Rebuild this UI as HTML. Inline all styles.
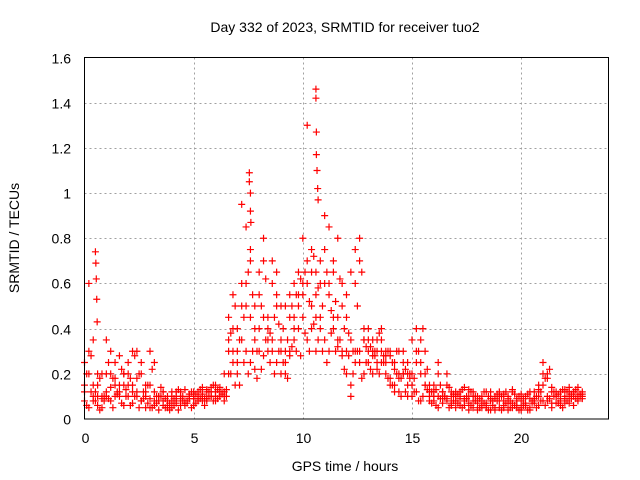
<!DOCTYPE html>
<html><head><meta charset="utf-8"><style>
body{margin:0;background:#fff;}
svg{display:block;font-family:"Liberation Sans",sans-serif;}
</style></head><body>
<svg id="chart" width="640" height="480">
<rect width="640" height="480" fill="#fff"/>
<text x="345" y="32" font-size="14" text-anchor="middle">Day 332 of 2023, SRMTID for receiver tuo2</text>
<text x="345" y="471" font-size="14" text-anchor="middle">GPS time / hours</text>
<text transform="translate(19,238) rotate(-90)" font-size="14" text-anchor="middle">SRMTID / TECUs</text>
<g id="grid"></g><g id="ticks"></g><g id="pts"></g>
<rect x="84.5" y="57.5" width="524" height="361.5" fill="none" stroke="#000" stroke-width="1"/>
</svg>
<script>
const hours=[0,0.2,0.4,0.6,0.8,1,1.2,1.4,1.6,1.8,2,2.2,2.4,2.6,2.8,3,3.2,3.4,3.6,3.8,4,4.2,4.4,4.6,4.8,5,5.2,5.4,5.6,5.8,6,6.2,6.4,6.6,6.8,7,7.2,7.4,7.6,7.8,8,8.2,8.4,8.6,8.8,9,9.2,9.4,9.6,9.8,10,10.2,10.4,10.6,10.8,11,11.2,11.4,11.6,11.8,12,12.2,12.4,12.6,12.8,13,13.2,13.4,13.6,13.8,14,14.2,14.4,14.6,14.8,15,15.2,15.4,15.6,15.8,16,16.2,16.4,16.6,16.8,17,17.2,17.4,17.6,17.8,18,18.2,18.4,18.6,18.8,19,19.2,19.4,19.6,19.8,20,20.2,20.4,20.6,20.8,21,21.2,21.4,21.6,21.8,22,22.2,22.4,22.6,22.8];
const srmtidA=[.08,.05,.1,.06,.09,.12,.08,.15,.1,.06,.1,.07,.12,.08,.05,.09,.06,.04,.08,.06,.05,.07,.06,.08,.09,.1,.08,.11,.09,.12,.1,.12,.1,.3,.25,.2,.35,.3,.25,.22,.3,.28,.35,.3,.25,.2,.3,.28,.35,.4,.45,.35,.5,.45,.4,.35,.3,.4,.32,.28,.3,.15,.25,.3,.2,.25,.28,.22,.25,.2,.18,.15,.12,.2,.15,.1,.12,.08,.15,.1,.08,.1,.07,.09,.06,.08,.06,.09,.07,.05,.07,.05,.06,.04,.05,.05,.06,.04,.07,.05,.04,.06,.05,.07,.06,.08,.1,.05,.07,.08,.09,.07,.1,.08,.1];
const srmtidB=[.25,.3,.15,.1,.05,.2,.3,.25,.15,.2,.25,.15,.3,.2,.1,.15,.25,.1,.12,.1,.1,.12,.09,.13,.1,.12,.1,.14,.13,.1,.15,.14,.2,.45,.55,.4,.6,.5,.45,.5,.55,.7,.45,.6,.5,.35,.5,.45,.6,.65,.6,.7,.75,.65,.7,.6,.55,.7,.8,.5,.45,.35,.6,.7,.4,.3,.35,.3,.4,.28,.3,.25,.3,.2,.25,.2,.4,.25,.3,.15,.15,.2,.12,.15,.1,.1,.12,.08,.13,.1,.1,.08,.12,.09,.1,.12,.08,.1,.13,.09,.08,.1,.12,.09,.15,.25,.2,.12,.1,.12,.13,.1,.12,.14,.12];
const srmtidC=[.15,.2,.35,.2,.1,.35,.2,.1,.28,.15,.2,.3,.1,.25,.15,.3,.12,.08,.06,.05,.08,.1,.12,.07,.1,.06,.09,.08,.12,.1,.08,.1,.12,.35,.3,.25,.5,.85,.7,.4,.4,.45,.3,.35,.55,.5,.25,.3,.4,.5,.55,.6,.4,.3,.45,.75,.6,.45,.35,.3,.55,.65,.3,.25,.35,.4,.2,.35,.3,.25,.15,.12,.2,.25,.1,.35,.25,.2,.15,.12,.1,.05,.12,.08,.07,.05,.1,.06,.04,.08,.04,.06,.05,.08,.04,.08,.05,.07,.05,.06,.05,.07,.04,.08,.1,.15,.08,.07,.1,.06,.07,.12,.06,.11,.09];
const srmtidD=[.12,.6,.08,.15,.2,.1,.14,.18,.12,.2,.15,.12,.18,.08,.12,.05,.08,.1,.12,.08,.12,.08,.1,.06,.11,.09,.12,.1,.08,.14,.12,.1,.08,.2,.4,.3,.95,.6,.75,.35,.65,.8,.4,.7,.65,.3,.2,.55,.45,.55,.8,1.3,.65,.55,.6,.9,.85,.65,.45,.6,.2,.1,.75,.8,.35,.35,.3,.25,.35,.3,.28,.22,.18,.3,.2,.15,.3,.35,.2,.08,.12,.25,.1,.2,.12,.12,.09,.14,.1,.12,.08,.1,.07,.12,.09,.1,.11,.09,.12,.08,.11,.06,.09,.12,.13,.2,.18,.14,.12,.09,.1,.14,.12,.09,.11];
const hours2=[0.1,0.3,0.5,0.7,0.9,1.1,1.3,1.5,1.7,1.9,2.1,2.3,2.5,2.7,2.9,3.1,3.3,3.5,3.7,3.9,4.1,4.3,4.5,4.7,4.9,5.1,5.3,5.5,5.7,5.9,6.1,6.3,6.5,6.7,6.9,7.1,7.3,7.5,7.7,7.9,8.1,8.3,8.5,8.7,8.9,9.1,9.3,9.5,9.7,9.9,10.1,10.3,10.5,10.7,10.9,11.1,11.3,11.5,11.7,11.9,12.1,12.3,12.5,12.7,12.9,13.1,13.3,13.5,13.7,13.9,14.1,14.3,14.5,14.7,14.9,15.1,15.3,15.5,15.7,15.9,16.1,16.3,16.5,16.7,16.9,17.1,17.3,17.5,17.7,17.9,18.1,18.3,18.5,18.7,18.9,19.1,19.3,19.5,19.7,19.9,20.1,20.3,20.5,20.7,20.9,21.1,21.3,21.5,21.7,21.9,22.1,22.3,22.5,22.7];
const srmtidE=[.06,.12,.08,.04,.1,.09,.05,.11,.07,.13,.06,.1,.05,.09,.07,.05,.07,.1,.05,.04,.06,.04,.08,.07,.05,.07,.09,.06,.1,.08,.09,.11,.13,.2,.15,.15,.25,.2,.3,.18,.22,.35,.25,.2,.3,.25,.18,.32,.3,.28,.38,.3,.42,.35,.3,.25,.38,.3,.35,.22,.28,.2,.3,.18,.25,.22,.3,.2,.28,.18,.15,.2,.1,.12,.18,.12,.08,.1,.13,.07,.06,.09,.1,.05,.08,.07,.05,.1,.06,.08,.05,.07,.04,.06,.08,.04,.07,.05,.06,.04,.06,.04,.07,.05,.08,.06,.09,.12,.07,.05,.08,.11,.09,.1];
const srmtidF=[.2,.28,.12,.18,.08,.25,.18,.12,.22,.1,.18,.28,.2,.12,.15,.22,.1,.14,.09,.07,.09,.13,.1,.08,.12,.11,.13,.09,.12,.15,.13,.12,.1,.38,.5,.35,.45,.65,.55,.3,.5,.62,.38,.45,.42,.4,.35,.5,.55,.62,.65,.52,.72,.58,.5,.65,.48,.52,.62,.4,.38,.3,.5,.65,.32,.32,.28,.38,.25,.3,.25,.3,.18,.22,.2,.18,.3,.4,.22,.12,.13,.15,.1,.14,.11,.11,.13,.09,.12,.1,.09,.12,.1,.08,.11,.1,.12,.08,.11,.1,.09,.11,.08,.1,.12,.18,.22,.1,.11,.13,.12,.09,.13,.11];
const spikeHours=[0.5,0.52,0.54,0.56,0.58,7.55,7.55,7.6,7.6,7.62,10.6,10.6,10.62,10.62,10.65,10.68,10.7];
const spikeValues=[.74,.69,.62,.53,.43,1.09,1.05,1.0,.92,.87,1.46,1.42,1.27,1.17,1.1,1.02,.97];
const xTicks=[0,5,10,15,20];
const yTicks=[0,0.2,0.4,0.6,0.8,1,1.2,1.4,1.6];
const yTickLabels=["0","0.2","0.4","0.6","0.8","1","1.2","1.4","1.6"];

const NS="http://www.w3.org/2000/svg";
const X0=84.5,X1=608.5,Y0=419,Y1=57.5;
function xs(h){return X0+(h/24)*(X1-X0);}
function ys(v){return Y0-(v/1.6)*(Y0-Y1);}
const grid=document.getElementById('grid'),ticks=document.getElementById('ticks'),pts=document.getElementById('pts');
function mk(tag,attrs,parent){const e=document.createElementNS(NS,tag);for(const k in attrs)e.setAttribute(k,attrs[k]);parent.appendChild(e);return e;}
xTicks.forEach(t=>{
  const x=Math.round(xs(t))+0.5;
  if(t>0){const g=mk('line',{x1:x,x2:x,y1:Y1,y2:Y0,stroke:'#a0a0a0','stroke-dasharray':'2,3'},grid);
  
  }
  const l=mk('text',{x:x,y:443,'font-size':14,'text-anchor':'middle'},ticks);l.textContent=t;
  
  
});
yTicks.forEach((t,i)=>{
  const y=Math.round(ys(t))+0.5;
  if(t>0&&t<1.6){const g=mk('line',{x1:X0,x2:X1,y1:y,y2:y,stroke:'#a0a0a0','stroke-dasharray':'2,3'},grid);
  
  }
  const l=mk('text',{x:71,y:y+5,'font-size':14,'text-anchor':'end'},ticks);l.textContent=yTickLabels[i];
  
  
});
function plus(h,v){
  const x=xs(h),y=ys(v);
  const p=mk('path',{d:`M${x-3.5} ${y}H${x+3.5}M${x} ${y-3.5}V${y+3.5}`,stroke:'#ff0000','stroke-width':1.2,fill:'none'},pts);
  
  
}
[srmtidA,srmtidB,srmtidC,srmtidD].forEach(s=>s.forEach((v,i)=>plus(hours[i],v)));
[srmtidE,srmtidF].forEach(s=>s.forEach((v,i)=>plus(hours2[i],v)));
spikeHours.forEach((h,i)=>plus(h,spikeValues[i]));
</script>
</body></html>
